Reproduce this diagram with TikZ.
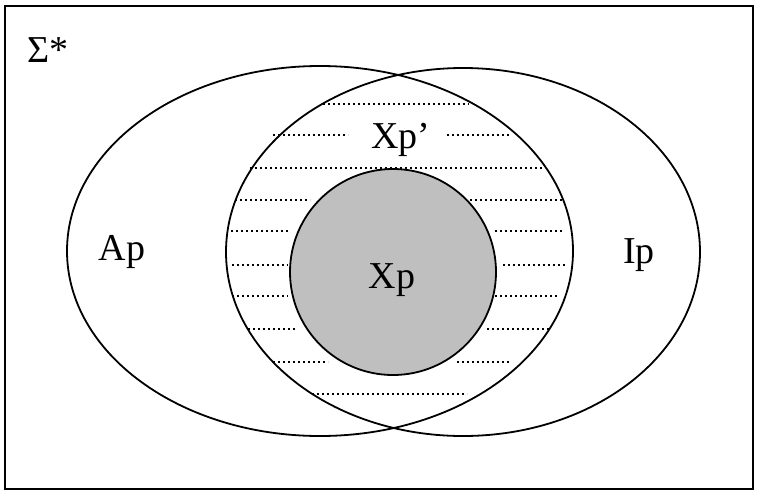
\documentclass[tikz,border=0pt]{standalone}
\usepackage{fontspec}
\setmainfont{Liberation Serif}
\begin{document}
\begin{tikzpicture}[x=1pt,y=-1pt,
  outline/.style={line width=1.8pt},
  hatch/.style={line width=1.8pt,dash pattern=on 1.8pt off 3.2pt},
  lbl/.style={font=\fontsize{38}{40}\selectfont,inner sep=0pt}]
\useasboundingbox (0,0) rectangle (757,493);
% frame
\draw[outline] (5,6) rectangle (753,489);
% inner shaded circle
\fill[black!25] (393,272) circle[radius=103];
% dotted lines
\foreach \y/\a/\b/\c/\d in {
  200/235/310/470/562,
  231/231/288/495/564,
  265/232/288/503/565,
  296/232/288/495/557,
  329/248/297/487/549,
  362/273/328/457/510}{
  \draw[hatch] (\a,\y) -- (\b,\y);
  \draw[hatch] (\c,\y) -- (\d,\y);
}
\draw[hatch] (323,104) -- (469,104);
\draw[hatch] (273,135) -- (348,135);
\draw[hatch] (447,135) -- (509,135);
\draw[hatch] (250,168) -- (542,168);
\draw[hatch] (312,394) -- (467,394);
% outlines
\draw[outline] (393,272) circle[radius=103];
\draw[outline] (320,251) ellipse[x radius=253,y radius=185];
\draw[outline] (463,252) ellipse[x radius=237,y radius=184];
% labels
\node[lbl,anchor=base west] (sigma) at (27,62) {Σ*};
\node[lbl,anchor=base] (ap) at (122,260) {Ap};
\node[lbl,anchor=base] (ip) at (639,263) {Ip};
\node[lbl,anchor=base] (xp) at (392,288) {Xp};
\node[lbl,anchor=base west] (xpp) at (371,148) {Xp’};
\end{tikzpicture}
\end{document}
